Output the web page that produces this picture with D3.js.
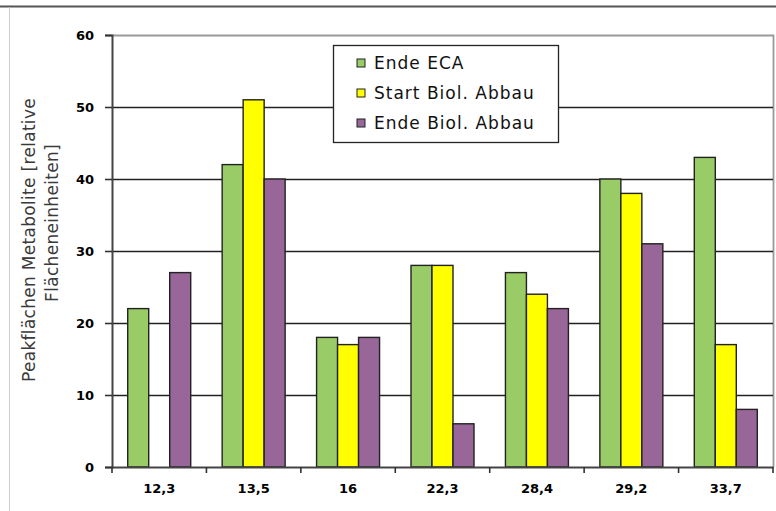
<!DOCTYPE html>
<html>
<head>
<meta charset="utf-8">
<script src="https://cdn.jsdelivr.net/npm/d3@7"></script>
<style>
  html, body { margin: 0; padding: 0; background: #fff; }
  svg { display: block; }
</style>
</head>
<body>
<svg id="chart" width="776" height="511"></svg>
<script>
// Retention times (categories) and peak areas per sampling stage
const categories = ["12,3", "13,5", "16", "22,3", "28,4", "29,2", "33,7"];
const seriesNames = ["Ende ECA", "Start Biol. Abbau", "Ende Biol. Abbau"];
const endeECA = [22, 42, 18, 28, 27, 40, 43];
const startBiol = [0, 51, 17, 28, 24, 38, 17];
const endeBiol = [27, 40, 18, 6, 22, 31, 8];
const yTicks = [0, 10, 20, 30, 40, 50, 60];
const colors = ["#99CC66", "#FFFF00", "#996699"];

const seriesValues = [endeECA, startBiol, endeBiol];
const rows = categories.map((c, i) => ({
  cat: c,
  vals: seriesNames.map((s, j) => ({ key: s, value: seriesValues[j][i], color: colors[j] }))
}));

const svg = d3.select("#chart");
const plot = { left: 112, right: 773, top: 35, bottom: 467 };
const font = "'DejaVu Sans', Verdana, sans-serif";

// outer frame
svg.append("line").attr("x1", 0).attr("x2", 776).attr("y1", 6.5).attr("y2", 6.5)
  .attr("stroke", "#555").attr("stroke-width", 2);
svg.append("line").attr("x1", 9.5).attr("x2", 9.5).attr("y1", 7).attr("y2", 511)
  .attr("stroke", "#ccc").attr("stroke-width", 1);

const x = d3.scaleBand().domain(categories).range([plot.left, plot.right]).paddingInner(0.333).paddingOuter(0.1665);
const xOuter = d3.scaleBand().domain(categories).range([plot.left, plot.right]);
const xInner = d3.scaleBand().domain(seriesNames).range([0, x.bandwidth()]);
const y = d3.scaleLinear().domain([0, 60]).range([plot.bottom, plot.top]);

// plot border (top and right)
svg.append("path")
  .attr("d", `M${plot.left},${plot.top + 0.5}H${plot.right + 0.5}V${plot.bottom}`)
  .attr("fill", "none").attr("stroke", "#999").attr("stroke-width", 1.8);

// gridlines
svg.append("g").selectAll("line").data(yTicks.filter(t => t > 0 && t < 60)).join("line")
  .attr("x1", plot.left).attr("x2", plot.right)
  .attr("y1", d => Math.round(y(d)) + 0.5).attr("y2", d => Math.round(y(d)) + 0.5)
  .attr("stroke", "#222").attr("stroke-width", 1.5);

// bars
const groups = svg.append("g").selectAll("g").data(rows).join("g")
  .attr("transform", d => `translate(${x(d.cat)},0)`);
groups.selectAll("rect").data(d => d.vals.filter(v => v.value > 0)).join("rect")
  .attr("x", d => xInner(d.key))
  .attr("width", xInner.bandwidth())
  .attr("y", d => y(d.value))
  .attr("height", d => y(0) - y(d.value))
  .attr("fill", d => d.color)
  .attr("stroke", "#222").attr("stroke-width", 1.4);

// y axis
const yAxis = d3.axisLeft(y).tickValues(yTicks).tickSize(7).tickPadding(11);
const yg = svg.append("g").attr("transform", `translate(${plot.left},0)`).call(yAxis);
yg.select(".domain").attr("stroke", "#444").attr("stroke-width", 2);
yg.selectAll(".tick line").attr("stroke", "#333").attr("stroke-width", 1.6);
yg.selectAll(".tick text").attr("font-family", font)
  .attr("font-weight", "bold").attr("font-size", 13).attr("fill", "#000");

// x axis with ticks between categories
const xAxis = d3.axisBottom(xOuter).tickSize(0).tickPadding(17);
const xg = svg.append("g").attr("transform", `translate(0,${plot.bottom})`).call(xAxis);
xg.select(".domain").attr("stroke", "#444").attr("stroke-width", 2);
xg.selectAll(".tick text").attr("font-family", font)
  .attr("font-weight", "bold").attr("font-size", 13).attr("fill", "#000");
const bounds = categories.map(c => xOuter(c)).concat([plot.right]);
xg.append("g").selectAll("line").data(bounds).join("line")
  .attr("x1", d => d).attr("x2", d => d)
  .attr("y1", 0).attr("y2", 6)
  .attr("stroke", "#333").attr("stroke-width", 1.6);

// y axis title (two lines)
const titleLines = [
  { text: "Peakflächen Metabolite [relative", x: 29, y: 240 },
  { text: "Flächeneinheiten]", x: 52, y: 223 }
];
svg.append("g").selectAll("text").data(titleLines).join("text")
  .attr("transform", d => `translate(${d.x},${d.y}) rotate(-90)`)
  .attr("text-anchor", "middle").attr("dy", "0.35em")
  .attr("font-family", font).attr("font-size", 17).attr("letter-spacing", 0.3)
  .attr("fill", "#3a3a3a")
  .text(d => d.text);

// legend
const legend = svg.append("g").attr("transform", "translate(333,45)");
legend.append("rect").attr("x", 0.5).attr("y", 0.5).attr("width", 225).attr("height", 97)
  .attr("fill", "#fff").attr("stroke", "#222").attr("stroke-width", 1.3);
const items = legend.selectAll("g.item").data(seriesNames).join("g").attr("class", "item")
  .attr("transform", (d, i) => `translate(24,${18 + i * 30})`);
items.append("rect").attr("x", 0).attr("y", -4).attr("width", 8).attr("height", 8)
  .attr("fill", (d, i) => colors[i]).attr("stroke", "#222").attr("stroke-width", 1);
items.append("text").attr("x", 17).attr("y", 0).attr("dy", "0.36em")
  .attr("font-family", font).attr("font-size", 17).attr("letter-spacing", 1)
  .attr("fill", "#111")
  .text(d => d);
</script>
</body>
</html>
